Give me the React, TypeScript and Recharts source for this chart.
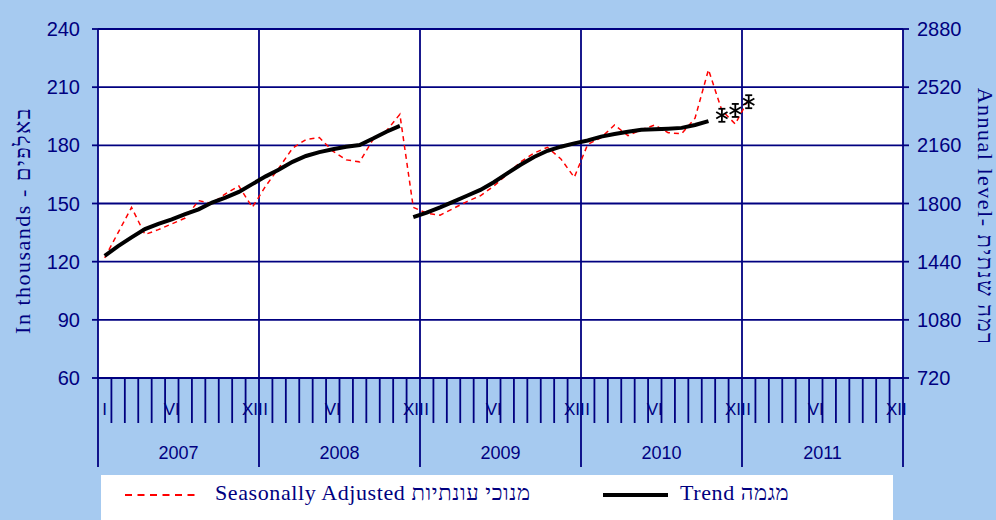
import React from 'react';
import { ComposedChart, Line, XAxis, YAxis, CartesianGrid, ReferenceLine } from 'recharts';

const NAVY = '#000080';
const BG = '#A6CAF0';
const SERIF = '"Liberation Serif", "DejaVu Serif", serif';
const SANS = '"Liberation Sans", Arial, sans-serif';

const years = ['2007', '2008', '2009', '2010', '2011'];
const monthLabels: Record<number, string> = { 0: 'I', 5: 'VI', 11: 'XII' };

// Jan 2007 - Jan 2011
const seasonallyAdjusted = [
  122, 135, 148, 134, 136.5, 139.5, 142.5, 151.5, 150, 155, 159, 148,
  159, 168.5, 178.5, 183, 184, 177, 172.5, 171.5, 183, 187.5, 196, 148,
  145, 144, 147.5, 151, 154, 159, 165, 171.5, 176, 179, 173, 163.5,
  180.5, 184, 190.5, 185, 188, 190.5, 186.5, 186, 194, 219, 198, 191, 204,
];
// Jan 2007 - Nov 2008
const trendBefore = [
  123, 128, 132.5, 136.8, 139.5, 141.8, 144.5, 147, 150.5, 153, 156, 160,
  164, 167.5, 171.5, 174.5, 176.5, 178, 179.3, 180.2, 183.5, 187, 190,
];
// Dec 2008 - Oct 2010
const trendAfter = [
  143, 145.3, 148, 151, 154, 157, 161, 165.5, 170, 174, 177.2, 179.3, 181,
  182.5, 184.5, 185.8, 187, 188, 188.3, 188.6, 189, 190.5, 192.5,
];
// Nov 2010 - Jan 2011
const provisional = [195.5, 198, 202.5];

const leftTicks = [60, 90, 120, 150, 180, 210, 240];
const rightTicks = [720, 1080, 1440, 1800, 2160, 2520, 2880];

const MONTHS = years.length * 12;
const TREND_AFTER_START = 23;
const PROVISIONAL_START = 46;

const data = Array.from({ length: MONTHS }, (_, i) => ({
  m: i + 0.5,
  sa: seasonallyAdjusted[i] ?? null,
  t1: trendBefore[i] ?? null,
  t2: i >= TREND_AFTER_START ? trendAfter[i - TREND_AFTER_START] ?? null : null,
  star: i >= PROVISIONAL_START ? provisional[i - PROVISIONAL_START] ?? null : null,
}));

const xTicks = Array.from({ length: MONTHS * 2 + 1 }, (_, k) => k / 2);
const yearBounds = years.slice(1).map((_, i) => (i + 1) * 12);

const MonthTick = (props: any) => {
  const { x, y, payload } = props;
  const v = payload.value as number;
  if (Number.isInteger(v)) {
    const isYear = v % 12 === 0;
    const yearIdx = Math.floor(v / 12);
    return (
      <g>
        <line x1={x} x2={x} y1={y} y2={y + (isYear ? 89 : 45)} stroke={NAVY} strokeWidth={1.8} />
        {v % 12 === 6 && (
          <text x={x} y={y + 81} textAnchor="middle" fill={NAVY} fontSize={18} fontFamily={SANS}>
            {years[yearIdx]}
          </text>
        )}
      </g>
    );
  }
  const label = monthLabels[Math.floor(v) % 12];
  if (!label) return <g />;
  return (
    <text x={x} y={y + 37} textAnchor="middle" fill={NAVY} fontSize={17} fontFamily={SANS}>
      {label}
    </text>
  );
};

const Asterisk = (props: any) => {
  const { cx, cy, index } = props;
  if (cx == null || cy == null || props.value == null) return <g key={`s${index}`} />;
  const r = 6.5;
  const dx = r * 0.87;
  const dy = r * 0.5;
  return (
    <g key={`s${index}`} stroke="#000" strokeWidth={1.8}>
      <line x1={cx} x2={cx} y1={cy - r} y2={cy + r} />
      <line x1={cx - dx} x2={cx + dx} y1={cy - dy} y2={cy + dy} />
      <line x1={cx - dx} x2={cx + dx} y1={cy + dy} y2={cy - dy} />
      <line x1={cx - 3.5} x2={cx + 3.5} y1={cy - r} y2={cy - r} />
      <line x1={cx - 3.5} x2={cx + 3.5} y1={cy + r} y2={cy + r} />
    </g>
  );
};

const leftLabel = (props: any) => {
  const { viewBox } = props;
  const cx = 22;
  const cy = viewBox.y + viewBox.height / 2 + 17;
  return (
    <text
      x={cx}
      y={cy}
      transform={`rotate(-90 ${cx} ${cy})`}
      textAnchor="middle"
      dominantBaseline="central"
      fill={NAVY}
      fontSize={22}
      letterSpacing={1.5}
      fontFamily={SERIF}
    >
      In thousands - באלפים
    </text>
  );
};

const rightLabel = (props: any) => {
  const { viewBox } = props;
  const cx = 985;
  const cy = viewBox.y + viewBox.height / 2 + 13;
  return (
    <text
      x={cx}
      y={cy}
      transform={`rotate(90 ${cx} ${cy})`}
      textAnchor="middle"
      dominantBaseline="central"
      fill={NAVY}
      fontSize={22}
      letterSpacing={1.5}
      fontFamily={SERIF}
    >
      Annual level- רמה שנתית
    </text>
  );
};

const tickStyle = { fill: NAVY, fontSize: 20, fontFamily: SANS };

export default function App() {
  return (
    <div style={{ position: 'absolute', left: 0, top: 0, width: 996, height: 520, background: BG, overflow: 'hidden' }}>
      <ComposedChart width={996} height={520} data={data} margin={{ top: 29, right: 0, bottom: 0, left: 0 }}>
        <CartesianGrid vertical={false} stroke={NAVY} strokeWidth={1.8} fill="#FFFFFF" fillOpacity={1} />
        <XAxis
          dataKey="m"
          type="number"
          domain={[0, MONTHS]}
          ticks={xTicks}
          interval={0}
          height={142}
          tickSize={0}
          tickMargin={0}
          tickLine={false}
          tick={MonthTick}
          axisLine={{ stroke: NAVY, strokeWidth: 1.8 }}
          allowDataOverflow
        />
        <YAxis
          type="number"
          domain={[60, 240]}
          ticks={leftTicks}
          width={98}
          interval={0}
          tickSize={6}
          tickMargin={12}
          tick={tickStyle}
          tickLine={{ stroke: NAVY, strokeWidth: 1.8 }}
          axisLine={{ stroke: NAVY, strokeWidth: 1.8 }}
          allowDataOverflow
          label={leftLabel}
        />
        <YAxis
          yAxisId="right"
          orientation="right"
          type="number"
          domain={[720, 2880]}
          ticks={rightTicks}
          width={93}
          interval={0}
          tickSize={6}
          tickMargin={8}
          tick={tickStyle}
          tickLine={{ stroke: NAVY, strokeWidth: 1.8 }}
          axisLine={{ stroke: NAVY, strokeWidth: 1.8 }}
          allowDataOverflow
          label={rightLabel}
        />
        {yearBounds.map((b) => (
          <ReferenceLine key={b} x={b} stroke={NAVY} strokeWidth={1.8} />
        ))}
        <Line
          dataKey="sa"
          type="linear"
          stroke="#FF0000"
          strokeWidth={1.5}
          strokeDasharray="5 4"
          dot={false}
          activeDot={false}
          isAnimationActive={false}
        />
        <Line dataKey="t1" type="linear" stroke="#000" strokeWidth={4} dot={false} activeDot={false} isAnimationActive={false} />
        <Line dataKey="t2" type="linear" stroke="#000" strokeWidth={4} dot={false} activeDot={false} isAnimationActive={false} />
        <Line
          dataKey="star"
          type="linear"
          stroke="none"
          dot={Asterisk}
          activeDot={false}
          isAnimationActive={false}
        />
      </ComposedChart>
      <div
        style={{
          position: 'absolute',
          left: 101,
          top: 475,
          width: 792,
          height: 45,
          background: '#FFFFFF',
          fontFamily: SERIF,
          color: NAVY,
          fontSize: 22,
        }}
      >
        <svg width={792} height={45} style={{ position: 'absolute', left: 0, top: 0 }}>
          <line x1={24} x2={99} y1={20} y2={20} stroke="#FF0000" strokeWidth={2} strokeDasharray="7 5.5" />
          <line x1={502} x2={567} y1={20} y2={20} stroke="#000" strokeWidth={4} />
        </svg>
        <div style={{ position: 'absolute', left: 114, top: 5, letterSpacing: 0.6, whiteSpace: 'nowrap' }}>
          Seasonally Adjusted מנוכי עונתיות
        </div>
        <div style={{ position: 'absolute', left: 579, top: 5, letterSpacing: 0.6, whiteSpace: 'nowrap' }}>
          Trend מגמה
        </div>
      </div>
    </div>
  );
}
